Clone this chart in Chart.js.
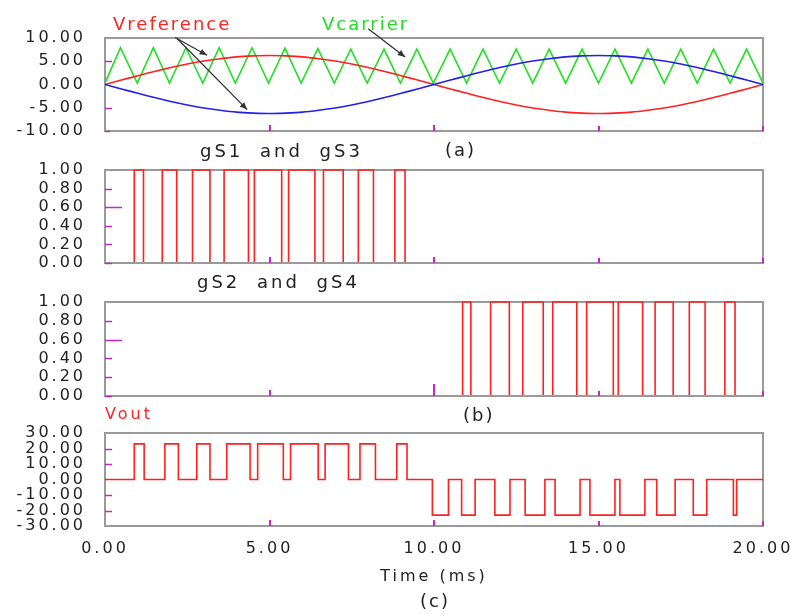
<!DOCTYPE html>
<html>
<head>
<meta charset="utf-8">
<script src="https://cdn.jsdelivr.net/npm/chart.js@4.4.1/dist/chart.umd.min.js"></script>
<style>
body { margin: 0; background: #fff; }
#wrap { position: relative; width: 790px; height: 614px; overflow: hidden; font-family: "DejaVu Sans", sans-serif; }
canvas { position: absolute; left: 0; }
.lbl { position: absolute; line-height: 1; white-space: nowrap; font-size: 18px; letter-spacing: 2px; color: #222; }
</style>
</head>
<body>
<div id="wrap">
  <canvas id="c1" width="790" height="175" style="top:0px"></canvas>
  <canvas id="c2" width="790" height="175" style="top:130px"></canvas>
  <canvas id="c3" width="790" height="175" style="top:262px"></canvas>
  <canvas id="c4" width="830" height="221" style="top:393px"></canvas>

  <div class="lbl" style="left:113px;top:15px;color:#ff2424">Vreference</div>
  <div class="lbl" style="left:322px;top:15px;color:#22dd22">Vcarrier</div>
  <div class="lbl" style="left:200px;top:142px;letter-spacing:3px;word-spacing:8px">gS1 and gS3</div>
  <div class="lbl" style="left:445px;top:141px">(a)</div>
  <div class="lbl" style="left:197px;top:273px;letter-spacing:3px;word-spacing:8px">gS2 and gS4</div>
  <div class="lbl" style="left:463px;top:406px">(b)</div>
  <div class="lbl" style="left:105px;top:406px;font-size:16px;letter-spacing:3px;color:#ff2424">Vout</div>
  <div class="lbl" style="left:420px;top:592px">(c)</div>
</div>
<script>
// time axis (ms)
const xTicks = [0, 5, 10, 15, 20];

// panel (a): reference sine waves and triangular carrier
const refTime = [0, 0.5, 1, 1.5, 2, 2.5, 3, 3.5, 4, 4.5, 5, 5.5, 6, 6.5, 7, 7.5, 8, 8.5, 9, 9.5, 10,
                 10.5, 11, 11.5, 12, 12.5, 13, 13.5, 14, 14.5, 15, 15.5, 16, 16.5, 17, 17.5, 18, 18.5, 19, 19.5, 20];
const vReference = [0, 0.95, 1.9, 2.8, 3.65, 4.4, 5.05, 5.55, 5.95, 6.15, 6.25, 6.15, 5.95, 5.55, 5.05, 4.4, 3.65, 2.8, 1.9, 0.95, 0,
                    -0.95, -1.9, -2.8, -3.65, -4.4, -5.05, -5.55, -5.95, -6.15, -6.25, -6.15, -5.95, -5.55, -5.05, -4.4, -3.65, -2.8, -1.9, -0.95, 0];
const vReferenceInv = [0, -0.95, -1.9, -2.8, -3.65, -4.4, -5.05, -5.55, -5.95, -6.15, -6.25, -6.15, -5.95, -5.55, -5.05, -4.4, -3.65, -2.8, -1.9, -0.95, 0,
                       0.95, 1.9, 2.8, 3.65, 4.4, 5.05, 5.55, 5.95, 6.15, 6.25, 6.15, 5.95, 5.55, 5.05, 4.4, 3.65, 2.8, 1.9, 0.95, 0];
const carrierTime = [0, 0.47, 0.98, 1.47, 1.96, 2.46, 2.97, 3.47, 3.96, 4.47, 4.97, 5.47, 5.96, 6.47, 6.97, 7.47, 7.97, 8.48, 8.98, 9.48, 9.98,
                     10.49, 10.99, 11.49, 11.99, 12.5, 13, 13.5, 14, 14.5, 15, 15.5, 16, 16.5, 17, 17.5, 18, 18.5, 19, 19.5, 20];
const vCarrier = [0.3, 7.9, 0.3, 7.9, 0.3, 7.9, 0.3, 7.9, 0.3, 7.9, 0.3, 7.8, 0.3, 7.7, 0.3, 7.6, 0.3, 7.6, 0.3, 7.6, 0.3,
                  7.6, 0.3, 7.6, 0.3, 7.6, 0.3, 7.6, 0.3, 7.6, 0.3, 7.6, 0.3, 7.6, 0.3, 7.6, 0.3, 7.6, 0.3, 7.6, 0.3];
const yTicksA = [-10, -5, 0, 5, 10];

// panel (b): gate signals, switching instants (ms), starting low
const gS13Edges = [0.89, 1.17, 1.74, 2.18, 2.66, 3.19, 3.62, 4.36, 4.54, 5.37, 5.58, 6.38, 6.64, 7.24, 7.70, 8.16, 8.81, 9.12];
const gS24Edges = [10.87, 11.12, 11.72, 12.29, 12.70, 13.32, 13.61, 14.34, 14.64, 15.45, 15.60, 16.34, 16.72, 17.27, 17.76, 18.24, 18.84, 19.15];
const yTicksGate = [0, 0.2, 0.4, 0.6, 0.8, 1];

// panel (c): output voltage, level taken from each instant on
const voutTime = [0, 0.89, 1.19, 1.82, 2.23, 2.79, 3.19, 3.70, 4.41, 4.64, 5.42, 5.64, 6.48, 6.69, 7.40, 7.75, 8.22, 8.87, 9.18,
                  9.95, 10.44, 10.84, 11.25, 11.85, 12.31, 12.77, 13.37, 13.68, 14.44, 14.74, 15.50, 15.65, 16.41, 16.77, 17.33, 17.88, 18.29, 19.10,
                  19.20, 20];
const voutLevel = [0, 23, 0, 23, 0, 23, 0, 23, 0, 23, 0, 23, 0, 23, 0, 23, 0, 23, 0,
                   -23, 0, -23, 0, -23, 0, -23, 0, -23, 0, -23, 0, -23, 0, -23, 0, -23, 0, -23,
                   0, 0];
const yTicksOut = [-30, -20, -10, 0, 10, 20, 30];

const FONT = 'DejaVu Sans';
const TXT = '#222';

function pairs(xs, ys) {
    return xs.map((x, i) => ({ x: x, y: ys[i] }));
}

// turns a list of switching times into a 0/1 step trace
function gatePoints(edges) {
    let pts = [{ x: 0, y: 0 }];
    let level = 0;
    edges.forEach(e => {
        level = level === 0 ? 1 : 0;
        pts.push({ x: e, y: level });
    });
    pts.push({ x: 20, y: level });
    return pts;
}

// wider letters like the original plot program
const spacing = {
    id: 'spacing',
    beforeLayout(chart) { chart.ctx.letterSpacing = '3px'; },
    beforeDraw(chart) { chart.ctx.letterSpacing = '3px'; }
};

// grey box round the plot and the small magenta ticks inside it
const frame = {
    id: 'frame',
    beforeDatasetsDraw(chart) {
        const { ctx, chartArea: a } = chart;
        ctx.save();
        ctx.strokeStyle = '#9a9a9a';
        ctx.lineWidth = 2;
        ctx.strokeRect(a.left, a.top, a.right - a.left, a.bottom - a.top);
        ctx.restore();
    },
    afterDatasetsDraw(chart, args, opts) {
        const { ctx, chartArea: a, scales } = chart;
        ctx.save();
        ctx.strokeStyle = '#9a9a9a';
        ctx.lineWidth = 2;
        ctx.beginPath();
        ctx.moveTo(a.left - 1, a.bottom);
        ctx.lineTo(a.right + 1, a.bottom);
        ctx.stroke();
        ctx.strokeStyle = '#cc22cc';
        ctx.lineWidth = 1.5;
        (opts.yMarks || []).forEach(m => {
            const y = Math.round(scales.y.getPixelForValue(m[0])) + 0.5;
            ctx.beginPath();
            ctx.moveTo(a.left, y);
            ctx.lineTo(a.left + m[1], y);
            ctx.stroke();
        });
        ctx.lineWidth = 2;
        (opts.xMarks || []).forEach(m => {
            const x = Math.round(scales.x.getPixelForValue(m[0]));
            ctx.beginPath();
            ctx.moveTo(x, a.bottom);
            ctx.lineTo(x, a.bottom - m[1]);
            ctx.stroke();
        });
        ctx.restore();
    }
};

// label arrows in panel (a), given in data units
const arrows = {
    id: 'arrows',
    afterDraw(chart, args, opts) {
        if (!opts.list) return;
        const { ctx, scales } = chart;
        ctx.save();
        ctx.strokeStyle = '#333';
        ctx.fillStyle = '#333';
        ctx.lineWidth = 1.3;
        opts.list.forEach(ar => {
            const x0 = scales.x.getPixelForValue(ar[0]), y0 = scales.y.getPixelForValue(ar[1]);
            const x1 = scales.x.getPixelForValue(ar[2]), y1 = scales.y.getPixelForValue(ar[3]);
            ctx.beginPath();
            ctx.moveTo(x0, y0);
            ctx.lineTo(x1, y1);
            ctx.stroke();
            const ang = Math.atan2(y1 - y0, x1 - x0);
            ctx.beginPath();
            ctx.moveTo(x1, y1);
            ctx.lineTo(x1 - 8 * Math.cos(ang - 0.4), y1 - 8 * Math.sin(ang - 0.4));
            ctx.lineTo(x1 - 8 * Math.cos(ang + 0.4), y1 - 8 * Math.sin(ang + 0.4));
            ctx.closePath();
            ctx.fill();
        });
        ctx.restore();
    }
};

function makePanel(id, datasets, yMin, yMax, yTicks, opt) {
    const showX = !!opt.showX;
    return new Chart(document.getElementById(id), {
        type: 'line',
        data: { datasets: datasets },
        options: {
            responsive: false,
            animation: false,
            devicePixelRatio: 1,
            layout: { padding: { top: opt.top, bottom: opt.bottom, left: 0, right: opt.right } },
            plugins: {
                legend: { display: false },
                tooltip: { enabled: false },
                frame: { yMarks: opt.yMarks, xMarks: opt.xMarks },
                arrows: { list: opt.arrows }
            },
            elements: { point: { radius: 0 } },
            scales: {
                x: {
                    type: 'linear',
                    min: 0,
                    max: 20,
                    display: showX,
                    afterBuildTicks: s => { s.ticks = xTicks.map(v => ({ value: v })); },
                    afterFit: s => { if (showX) s.height = 88; },
                    grid: { display: false, drawTicks: false },
                    border: { display: false },
                    ticks: {
                        padding: 13,
                        autoSkip: false,
                        color: TXT,
                        font: { family: FONT, size: 16 },
                        maxRotation: 0,
                        callback: v => Number(v).toFixed(2)
                    },
                    title: {
                        display: showX,
                        text: 'Time (ms)',
                        color: TXT,
                        font: { family: FONT, size: 16 },
                        padding: { top: 0, bottom: 28 }
                    }
                },
                y: {
                    min: yMin,
                    max: yMax,
                    afterBuildTicks: s => { s.ticks = yTicks.map(v => ({ value: v })); },
                    afterFit: s => { s.width = 105; },
                    grid: { display: false, drawTicks: false },
                    border: { display: false },
                    ticks: {
                        padding: 19,
                        autoSkip: false,
                        color: TXT,
                        font: { family: FONT, size: 16 },
                        callback: v => Number(v).toFixed(2)
                    }
                }
            }
        },
        plugins: [spacing, frame, arrows]
    });
}

const xMarks = [[5, 6], [10, 6], [15, 5], [20, 5]];

makePanel('c1', [
    { data: pairs(refTime, vReferenceInv), borderColor: '#2020e6', borderWidth: 1.6, tension: 0.2 },
    { data: pairs(refTime, vReference), borderColor: '#ff2020', borderWidth: 1.6, tension: 0.2 },
    { data: pairs(carrierTime, vCarrier), borderColor: '#22e022', borderWidth: 1.6 }
], -10, 10, yTicksA, {
    top: 38, bottom: 44, right: 27,
    yMarks: [[5, 7], [-5, 7], [-10, 5]],
    xMarks: xMarks,
    arrows: [[2.13, 10.1, 3.1, 6.3], [2.19, 9.9, 4.32, -5.4], [8.0, 12.0, 9.12, 5.9]]
});

makePanel('c2', [
    { data: gatePoints(gS13Edges), borderColor: '#ff2020', borderWidth: 1.6, stepped: true, clip: 3 }
], 0, 1, yTicksGate, {
    top: 40, bottom: 42, right: 27,
    yMarks: [[0.8, 7], [0.6, 17], [0.4, 7], [0.2, 7], [0, 7]],
    xMarks: xMarks
});

makePanel('c3', [
    { data: gatePoints(gS24Edges), borderColor: '#ff2020', borderWidth: 1.6, stepped: true, clip: 3 }
], 0, 1, yTicksGate, {
    top: 40, bottom: 41, right: 27,
    yMarks: [[0.8, 7], [0.6, 17], [0.4, 7], [0.2, 7], [0, 7]],
    xMarks: [[5, 6], [10, 12], [15, 5], [20, 5]]
});

makePanel('c4', [
    { data: pairs(voutTime, voutLevel), borderColor: '#ff2020', borderWidth: 1.6, stepped: true }
], -30, 30, yTicksOut, {
    showX: true,
    top: 40, bottom: 0, right: 67,
    yMarks: [[20, 7], [10, 7], [-10, 7], [-20, 7]],
    xMarks: xMarks
});
</script>
</body>
</html>
